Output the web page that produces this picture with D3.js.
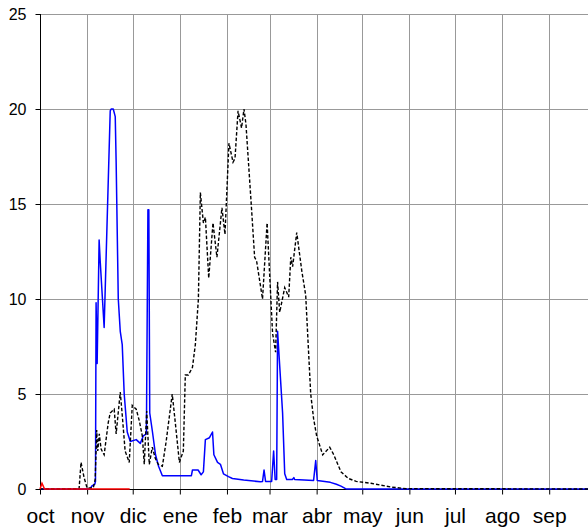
<!DOCTYPE html>
<html><head><meta charset="utf-8">
<script src="https://cdn.jsdelivr.net/npm/d3@7"></script>
<style>body{margin:0;background:#fff}svg{display:block}</style>
</head><body>
<svg id="c" width="588" height="529"></svg>
<script>
// Month labels and their start (day offset from 1 Oct)
const monthLabels = ["oct","nov","dic","ene","feb","mar","abr","may","jun","jul","ago","sep"];
const monthStarts = [0,31,61,92,123,151,182,212,243,273,304,335];
const yTicks = [0,5,10,15,20,25];

// Blue series (day offset, value)
const blueDays = [0,33,34,36,36.5,36.9,37.6,38.9,39.6,42.2,46.2,46.8,48.2,49.5,50.1,51.5,52.8,54.1,55.4,57.4,59.4,63.3,66,68,70,71,71.6,72.2,74,76,78,80.5,99.6,100.3,104,106,107.5,108.8,111.5,113.5,114.4,116.8,118.7,120.7,124,126.6,134,145,146.4,147.4,148.4,152.4,153.7,154.7,155.7,156.3,159.6,161,162.3,166,167,167.5,180,181.4,182.4,191,195,198,201,202,365];
const blueVals = [0,0,0.15,0.25,0.4,9.8,6.6,13.1,12,8.5,19.9,20,20,19.6,17.2,10,8.3,7.6,5,3,2.5,2.6,2.4,2.8,2.9,14.7,14.7,4.0,3.0,1.8,1.2,0.7,0.7,1.0,1.0,0.75,0.9,2.6,2.7,3.0,1.8,1.4,1.3,0.8,0.65,0.55,0.47,0.38,0.4,1.0,0.4,0.4,2.0,0.5,0.5,8.3,4.0,0.8,0.5,0.5,0.6,0.5,0.45,1.5,0.45,0.35,0.25,0.15,0.02,0,0];

// Black dashed series (day offset, value)
const blackDays = [0,25.7,27,29,31,35,36.3,37.3,38,39,40.2,42.2,44.9,46.2,48.8,50.1,52.8,54,56,58.7,60.7,63.3,65.3,67.3,68.6,70.2,71.9,73.9,75.9,77.8,80.5,83,87,89,91.7,94.3,95.6,97.6,100.3,102.2,104.2,105.5,107.5,108.8,111,113.8,116.4,119.7,121.7,124.3,127,128.3,130.3,132.6,134.2,135.5,138.8,141.2,142.5,146.4,149.4,153,155,156.3,157.7,161,163.6,165,166.2,168.9,172.2,174.8,178.1,180,182,186,190.6,193.3,198,203,208,217.7,231,240.8,365];
const blackVals = [0,0,1.4,0.6,0.05,0.05,0.5,3.1,2.0,2.9,2.1,1.8,3.5,4.0,4.2,2.9,5.1,4.0,2.0,1.4,4.4,4.2,3.6,2.8,1.3,4.1,1.3,2.2,1.6,1.3,1.2,2.5,5.0,3.5,1.4,2.0,6.0,6.0,6.4,7.6,10,15.6,14.0,14.3,11.1,14.0,12.2,14.8,13.4,18.2,17.2,17.4,19.9,19.0,20.0,19.2,15.2,12.2,12.0,10.0,14.0,8.2,7.2,10.9,9.3,10.6,10.1,12.2,11.7,13.5,11.5,10.2,5.0,3.7,2.8,1.8,2.2,1.8,0.9,0.55,0.4,0.3,0.1,0.02,0];

// Red series (day offset, value)
const redDays = [0,1.3,3,59];
const redVals = [0,0.3,0,0];

const svg = d3.select("#c");
const x = d3.scaleLinear().domain([0,365]).range([40, 40+365*1.52]);
const y = d3.scaleLinear().domain([0,25]).range([489, 14]);

// Grid
const g = svg.append("g");
g.selectAll("line.v").data(monthStarts.slice(1)).join("line")
  .attr("x1", d=>Math.round(x(d))+0.5).attr("x2", d=>Math.round(x(d))+0.5)
  .attr("y1", y(25)).attr("y2", y(0))
  .attr("stroke","#999").attr("stroke-width",1);
g.selectAll("line.h").data(yTicks.slice(1)).join("line")
  .attr("x1", 40).attr("x2", 588)
  .attr("y1", d=>Math.round(y(d))+0.5).attr("y2", d=>Math.round(y(d))+0.5)
  .attr("stroke","#999").attr("stroke-width",1);

// Axes
const xAxis = d3.axisBottom(x).tickValues(monthStarts).tickSize(5)
  .tickFormat((d,i)=>monthLabels[i]);
const ax = svg.append("g").attr("transform","translate(0,489.5)").call(xAxis);
ax.select(".domain").attr("d","M40,0H588").attr("stroke","#000");
ax.selectAll(".tick line").attr("stroke","#000");
ax.selectAll(".tick text").attr("font-family","Liberation Sans, Arial, sans-serif")
  .attr("font-size",21).attr("fill","#000").attr("y",19).attr("dy","0.71em");

const yAxis = d3.axisLeft(y).tickValues(yTicks).tickSize(5).tickPadding(9);
const ay = svg.append("g").attr("transform","translate(40.5,0)").call(yAxis);
ay.select(".domain").attr("d","M0,14V489").attr("stroke","#000");
ay.selectAll(".tick line").attr("stroke","#000");
ay.selectAll(".tick text").attr("font-family","Liberation Sans, Arial, sans-serif")
  .attr("font-size",16).attr("fill","#000");

// Lines
const line = d3.line().x(d=>x(d[0])).y(d=>y(d[1]));
svg.append("path").datum(d3.zip(blueDays, blueVals)).attr("d", line)
  .attr("fill","none").attr("stroke","#0000ff").attr("stroke-width",1.5).attr("stroke-linejoin","round");
svg.append("path").datum(d3.zip(blackDays, blackVals)).attr("d", line)
  .attr("fill","none").attr("stroke","#000").attr("stroke-width",1.4).attr("stroke-dasharray","3.5,2");
svg.append("path").datum(d3.zip(redDays, redVals)).attr("d", line)
  .attr("fill","none").attr("stroke","#ff0000").attr("stroke-width",1.5);
</script>
</body></html>
